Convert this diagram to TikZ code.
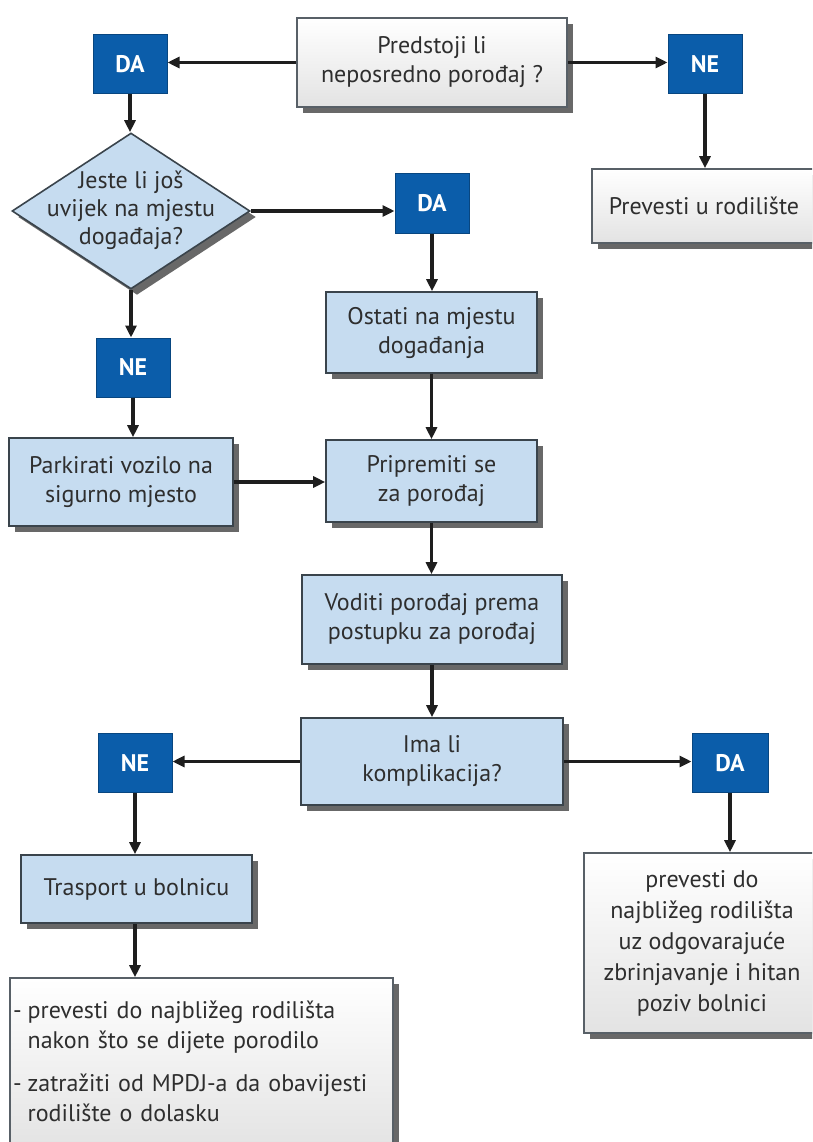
\documentclass[tikz,border=0pt]{standalone}
\usepackage{fontspec}
\setmainfont{PT Sans}
\usetikzlibrary{arrows.meta,shapes.geometric,shadows}
\definecolor{dkblue}{HTML}{0B5DAA}
\definecolor{ltblue}{HTML}{C6DCF0}
\definecolor{edgec}{HTML}{3A444C}
\definecolor{txtc}{HTML}{2E2E2E}
\definecolor{shd}{HTML}{686868}
\definecolor{linec}{HTML}{1E1E1E}
\tikzset{
 base/.style={inner sep=0pt, align=center, text=txtc, font=\fontsize{24}{29}\selectfont},
 sh/.style={drop shadow={shadow xshift=6pt, shadow yshift=-6pt, fill=shd, opacity=1}},
 bluebox/.style={base, draw=edgec, line width=1.6pt, fill=ltblue, sh},
 whitebox/.style={base, draw=edgec!85, line width=1.6pt, top color=white, bottom color=gray!22, sh},
 tag/.style={inner sep=0pt, draw=dkblue!75!black, line width=1pt, fill=dkblue, text=white, font=\fontsize{24}{29}\selectfont\bfseries, minimum width=74pt, minimum height=59pt},
 dia/.style={diamond, draw=edgec, line width=1.6pt, fill=ltblue, sh, inner sep=0pt, minimum width=238pt, minimum height=156pt},
 arr/.style={draw=linec, line width=3.2pt, -{Triangle[length=12pt,width=11pt]}},
}
\begin{document}
\begin{tikzpicture}[x=1pt,y=-1pt]
\useasboundingbox (0,0) rectangle (812,1142);
\fill[white] (0,0) rectangle (812,1142);
\clip (0,0) rectangle (812,1142);
% nodes
\node[whitebox, minimum width=270pt, minimum height=89pt] (top) at (432,62.5) {Predstoji li\\neposredno porođaj ?};
\node[tag] (da1) at (130,64.5) {DA};
\node[tag] (ne1) at (705,64.5) {NE};
\node[whitebox, minimum width=224pt, minimum height=74pt] (prev) at (704,206) {Prevesti u rodilište};
\node[dia] (q1) at (131,211) {};
\node[base, font=\fontsize{24}{28}\selectfont] (q1t) at (131,210) {Jeste li još\\uvijek na mjestu\\događaja?};
\node[tag] (da2) at (432,203.5) {DA};
\node[bluebox, minimum width=211pt, minimum height=81pt] (ost) at (431.5,332.5) {Ostati na mjestu\\događanja};
\node[tag] (ne2) at (133,367.5) {NE};
\node[bluebox, minimum width=224pt, minimum height=88pt] (park) at (121,482) {Parkirati vozilo na\\sigurno mjesto};
\node[bluebox, minimum width=211pt, minimum height=82pt] (prip) at (431.5,481) {Pripremiti se\\za porođaj};
\node[bluebox, minimum width=260pt, minimum height=89pt] (vod) at (432,619.5) {Voditi porođaj prema\\postupku za porođaj};
\node[bluebox, minimum width=262pt, minimum height=87pt] (ima) at (432,761.5) {Ima li\\komplikacija?};
\node[tag] (ne3) at (135,763) {NE};
\node[tag, minimum width=76pt] (da3) at (730,763) {DA};
\node[bluebox, minimum width=231pt, minimum height=68pt] (trans) at (136.5,889) {Trasport u bolnicu};
\node[whitebox, minimum width=383pt, minimum height=172pt, text width=377pt, align=left, font=\fontsize{24}{30}\selectfont] (bl) at (201.5,1064) {%
\begin{tabular}{@{}l@{\hspace{6pt}}l@{}}
-& prevesti do najbližeg rodilišta\\
 & nakon što se dijete porodilo\\[13pt]
-& zatražiti od MPDJ-a da obavijesti\\
 & rodilište o dolasku
\end{tabular}};
\node[whitebox, minimum width=236pt, minimum height=180pt, font=\fontsize{24}{31}\selectfont] (br) at (702,943) {prevesti do\\najbližeg rodilišta\\uz odgovarajuće\\zbrinjavanje i hitan\\poziv bolnici};
% connectors
\draw[arr] (top.west) -- (top.west -| da1.east);
\draw[arr] (top.east) -- (top.east -| ne1.west);
\draw[arr] (ne1.south) -- (ne1.south |- prev.north);
\draw[arr] (da1.south) -- (da1.south |- q1.north);
\draw[arr] (q1.east) -- (q1.east -| da2.west);
\draw[arr] (da2.south) -- (da2.south |- ost.north);
\draw[arr] (q1.south) -- (q1.south |- ne2.north);
\draw[arr] (ne2.south) -- (ne2.south |- park.north);
\draw[arr] (park.east) -- (park.east -| prip.west);
\draw[arr] (ost.south) -- (ost.south |- prip.north);
\draw[arr] (prip.south) -- (prip.south |- vod.north);
\draw[arr] (vod.south) -- (vod.south |- ima.north);
\draw[arr] (ima.west) -- (ima.west -| ne3.east);
\draw[arr] (ima.east) -- (ima.east -| da3.west);
\draw[arr] (ne3.south) -- (ne3.south |- trans.north);
\draw[arr] (ne3.south |- trans.south) -- (ne3.south |- bl.north);
\draw[arr] (da3.south) -- (da3.south |- br.north);
\end{tikzpicture}
\end{document}
